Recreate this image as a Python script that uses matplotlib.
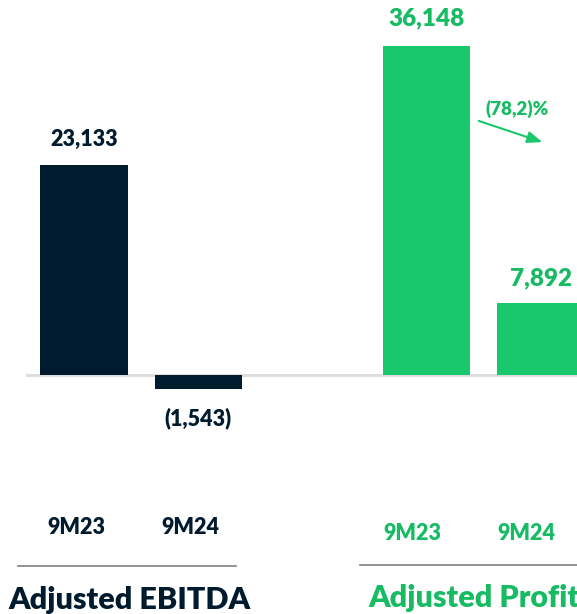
import matplotlib
matplotlib.use('Agg')
import matplotlib.pyplot as plt
import matplotlib.transforms as mtransforms

# data
periods = ['9M23', '9M24']
ebitda = [23133, -1543]
profit = [36148, 7892]
ebitda_labels = ['23,133', '(1,543)']
profit_labels = ['36,148', '7,892']
change_label = '(78,2)%'
group_titles = ['Adjusted EBITDA', 'Adjusted Profit']

navy = '#001b2d'
green = '#19c86c'
green_txt = '#17bb63'

W, H = 577, 614
fig = plt.figure(figsize=(W / 100, H / 100), dpi=100)
ax = fig.add_axes([0, 0, 1, 1])
ax.axis('off')

x_left = [0, 1]
x_right = [3, 4]
bw = 0.77

ax.bar(x_left, ebitda, width=bw, color=navy, zorder=2)
ax.bar(x_right, profit, width=bw, color=green, zorder=2)

ax.set_xlim(-0.74, 4.32)
ax.set_ylim(-26290, 41250)
ax.axhline(0, xmin=(-0.5 + 0.74) / 5.06, xmax=1, color='#dcdcdc', lw=2, zorder=1)

font = 'Lato'
for x, v, lab in zip(x_left, ebitda, ebitda_labels):
    off = 18 if v > 0 else -21
    ax.annotate(lab, (x, v), xytext=(0, off), textcoords='offset points',
                ha='center', va='center', fontsize=15.5, fontweight='heavy',
                color=navy, family=font)
for x, v, lab in zip(x_right, profit, profit_labels):
    off = 20 if x == 3 else 18
    ax.annotate(lab, (x, v), xytext=(0, off), textcoords='offset points',
                ha='center', va='center', fontsize=17.5, fontweight='heavy',
                color=green_txt, family=font)

trans = mtransforms.blended_transform_factory(ax.transData, ax.transAxes)
for x, p in zip(x_left, periods):
    ax.text(x - 0.07, 1 - 527 / H, p, transform=trans, ha='center', va='center',
            fontsize=15.5, fontweight='heavy', color=navy, family=font)
for x, p in zip(x_right, periods):
    ax.text(x - 0.12, 1 - 533 / H, p, transform=trans, ha='center', va='center',
            fontsize=15.5, fontweight='heavy', color=green_txt, family=font)

# separator lines under the period labels
ax.plot([18 / W, 236 / W], [1 - 566 / H] * 2, transform=ax.transAxes,
        color='#7f7f7f', lw=1.2, clip_on=False)
ax.plot([360 / W, 1.0], [1 - 565 / H] * 2, transform=ax.transAxes,
        color='#7f7f7f', lw=1.2, clip_on=False)

ax.text(129 / W, 1 - 600 / H, group_titles[0], transform=ax.transAxes,
        ha='center', va='center', fontsize=22, fontweight='heavy', color=navy, family=font)
ax.text(368 / W, 1 - 598 / H, group_titles[1], transform=ax.transAxes,
        ha='left', va='center', fontsize=22, fontweight='heavy', color=green_txt, family=font)

# change arrow
ax.annotate('', xy=(545 / W, 1 - 143 / H), xytext=(476 / W, 1 - 120 / H),
            xycoords='axes fraction', textcoords='axes fraction',
            arrowprops=dict(arrowstyle='-|>,head_length=0.9,head_width=0.35',
                            color=green, lw=1.5))
ax.text(517 / W, 1 - 109 / H, change_label, transform=ax.transAxes,
        ha='center', va='center', fontsize=13.5, fontweight='heavy', color=green_txt, family=font)

plt.savefig('out.png', dpi=100)
